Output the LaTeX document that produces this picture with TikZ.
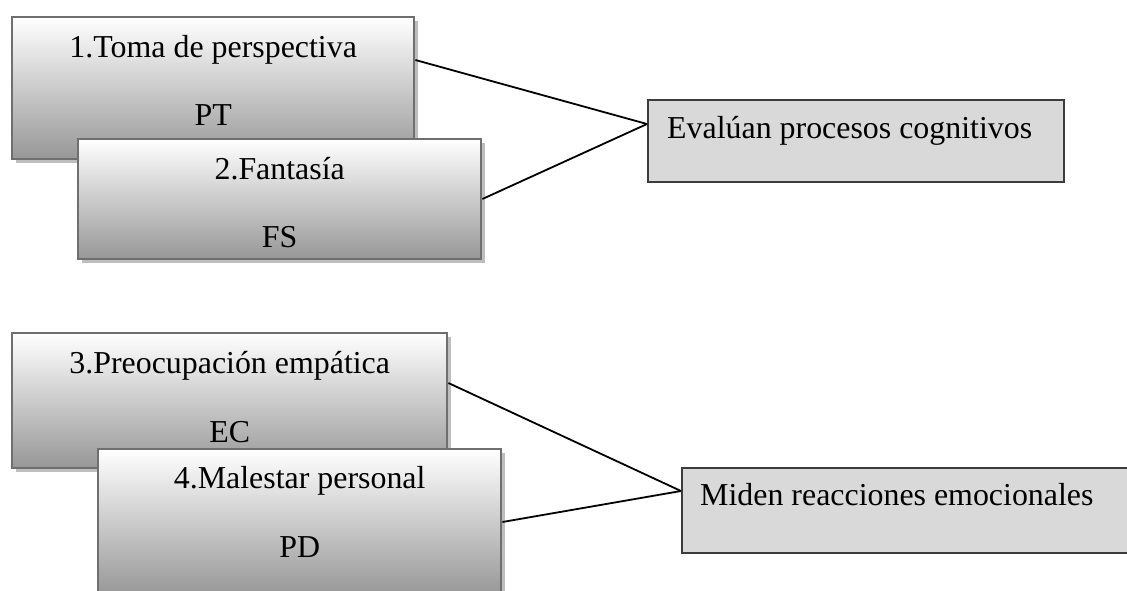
\documentclass[tikz,border=0pt]{standalone}
\usepackage{fontspec}
\setmainfont{Liberation Serif}
\usetikzlibrary{shadows}
\definecolor{boxedge}{HTML}{6F6F6F}
\definecolor{boxbottom}{HTML}{979797}
\definecolor{shadowgray}{HTML}{BEBEBE}
\definecolor{sumfill}{HTML}{D9D9D9}
\definecolor{sumedge}{HTML}{3C3C3C}
\begin{document}
\begin{tikzpicture}[x=1pt,y=-1pt,
  scalebox/.style={draw=boxedge, line width=2.4pt, rectangle, inner sep=0pt,
    anchor=north west, top color=white, bottom color=boxbottom,
    drop shadow={shadow xshift=4pt, shadow yshift=-4pt, fill=shadowgray, opacity=1}},
  sumbox/.style={draw=sumedge, line width=1.8pt, fill=sumfill, rectangle,
    inner sep=0pt, anchor=north west},
  lbl/.style={inner sep=0pt, font=\fontsize{31.9}{38}\selectfont},
  link/.style={draw=black, line width=1.8pt}]
\useasboundingbox (0,0) rectangle (1127,590);
\clip (0,0) rectangle (1127,590);

% scale boxes, upper group
\node[scalebox, minimum width=402pt, minimum height=142pt] (b1) at (11,16) {};
\node[lbl, anchor=base] (t1a) at ([yshift=-41pt]b1.north) {1.Toma de perspectiva};
\node[lbl, anchor=base] (t1b) at ([yshift=-109pt]b1.north) {PT};
\node[scalebox, minimum width=403pt, minimum height=120pt] (b2) at (77,138) {};
\node[lbl, anchor=base] (t2a) at ([yshift=-41pt]b2.north) {2.Fantasía};
\node[lbl, anchor=base] (t2b) at ([yshift=-109pt]b2.north) {FS};

% scale boxes, lower group
\node[scalebox, minimum width=435pt, minimum height=135pt] (b3) at (11,332) {};
\node[lbl, anchor=base] (t3a) at ([yshift=-41pt]b3.north) {3.Preocupación empática};
\node[lbl, anchor=base] (t3b) at ([yshift=-110pt]b3.north) {EC};
\node[scalebox, minimum width=403pt, minimum height=146pt] (b4) at (97,448) {};
\node[lbl, anchor=base] (t4a) at ([yshift=-40pt]b4.north) {4.Malestar personal};
\node[lbl, anchor=base] (t4b) at ([yshift=-109pt]b4.north) {PD};

% summary boxes
\node[sumbox, minimum width=416pt, minimum height=82pt] (r1) at (647,99) {};
\node[lbl, anchor=base west] (s1) at ([xshift=20pt,yshift=-39pt]r1.north west) {Evalúan procesos cognitivos};
\node[sumbox, minimum width=460pt, minimum height=85pt] (r2) at (681,467) {};
\node[lbl, anchor=base west] (s2) at ([xshift=19pt,yshift=-38pt]r2.north west) {Miden reacciones emocionales};

% connectors
\draw[link] ([yshift=-44pt]b1.north east) -- ([yshift=-25pt]r1.north west);
\draw[link] ([yshift=-61pt]b2.north east) -- ([yshift=-25pt]r1.north west);
\draw[link] ([yshift=-51pt]b3.north east) -- ([yshift=-24pt]r2.north west);
\draw[link] ([yshift=-74pt]b4.north east) -- ([yshift=-24pt]r2.north west);
\end{tikzpicture}
\end{document}
